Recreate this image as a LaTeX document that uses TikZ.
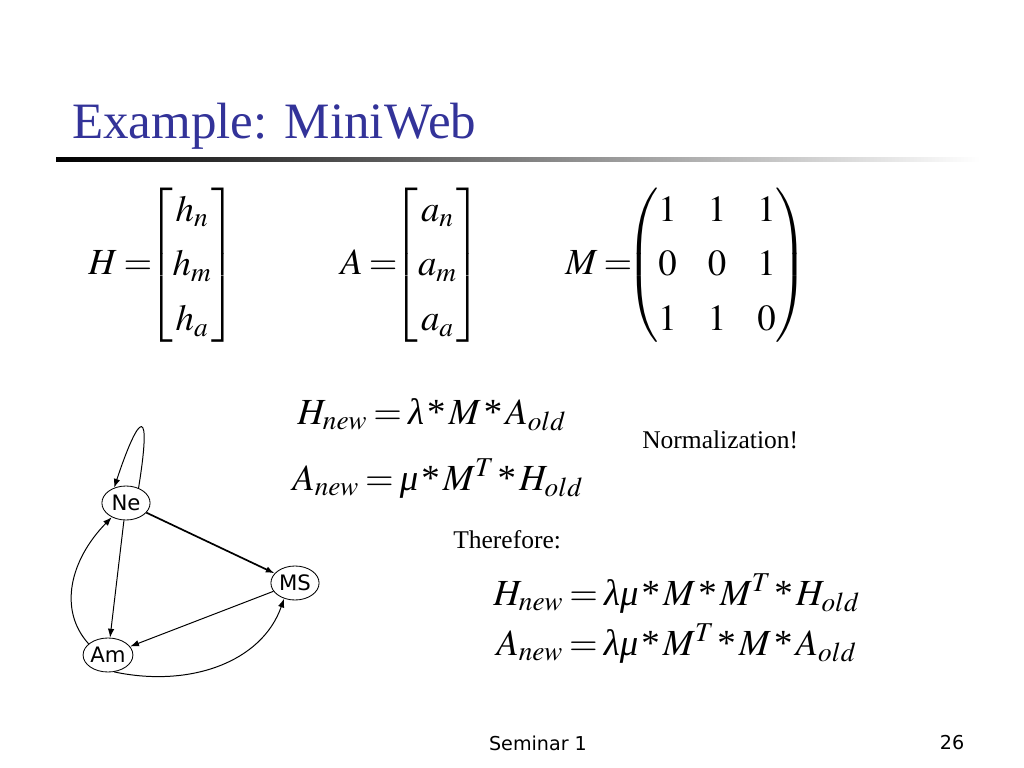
\documentclass[tikz,border=0pt]{standalone}
\usepackage{amsmath}
\usepackage{mathptmx}
\usepackage{fontspec}
\setmainfont{Liberation Serif}
\newfontfamily\tahoma{DejaVu Sans}
\usepackage{tikz}
\usetikzlibrary{positioning, shapes.geometric, arrows.meta}
\tikzstyle{arrow} = [line width=0.7pt,-{Latex[length=2.2mm,width=1.6mm]}]
\definecolor{titleblue}{RGB}{51,51,153}
\newcommand{\tms}{\mathbin{\text{*}}}
\newcommand{\glam}{\mathord{\textit{λ}}}
\newcommand{\gmu}{\mathord{\textit{μ}}}
\newcommand{\eqsetup}{\fontsize{26}{31}\selectfont
    \thickmuskip=3mu\relax \medmuskip=1.5mu\relax
    \delimiterfactor=900\relax \delimitershortfall=12pt\relax}

\begin{document}
\begin{tikzpicture}[
        x=0.24805mm, y=-0.24805mm,
        every node/.style={inner sep=0pt},
        vertex/.style={ellipse, draw=black, line width=0.6pt, minimum width=34pt, minimum height=24pt, font=\tahoma\fontsize{15}{17}\selectfont},
        mathfont/.style={font=\eqsetup},
        eq/.style={mathfont, anchor=base west},
        txt/.style={font=\fontsize{18}{21}\selectfont, anchor=base west},
        foot/.style={font=\tahoma\fontsize{13.5}{16}\selectfont}
    ]
    \useasboundingbox (0,0) rectangle (1024,768);

    % Title
    \node (title) [anchor=base west, text=titleblue, font=\fontsize{36}{42}\selectfont] at (72,139) {Example: MiniWeb};
    \shade [left color=black, right color=white] (56,157) rectangle (980,161);

    % Vectors and matrix
    \node (matH) [anchor=west, mathfont] at (88,265)
        {\renewcommand{\arraystretch}{1.25}$H=\mkern-5mu\begin{bmatrix} h_n \\ h_m \\ h_a \end{bmatrix}$};
    \node (matA) [anchor=west, mathfont] at (340,265)
        {\renewcommand{\arraystretch}{1.25}$A=\mkern-5mu\begin{bmatrix} a_n \\ a_m \\ a_a \end{bmatrix}$};
    \node (matM) [anchor=west, mathfont] at (565,265)
        {\renewcommand{\arraystretch}{1.25}\setlength{\arraycolsep}{11pt}$M=\mkern-6mu\begin{pmatrix} 1 & 1 & 1 \\ 0 & 0 & 1 \\ 1 & 1 & 0 \end{pmatrix}$};

    % Update rules
    \node (eqH) [eq] at (297,424) {$H_{new}=\glam\tms M\tms A_{old}$};
    \node (eqA) [eq] at (292,490) {$A_{new}=\gmu\tms M^{T}\tms H_{old}$};
    \node (norm) [txt] at (642,448) {Normalization!};
    \node (therefore) [txt] at (453,548) {Therefore:};
    \node (eqHH) [eq] at (493,605) {$H_{new}=\glam\gmu\tms M\tms M^{T}\tms H_{old}$};
    \node (eqAA) [eq] at (496,655) {$A_{new}=\glam\gmu\tms M^{T}\tms M\tms A_{old}$};

    % Graph
    \node (Ne) [vertex] at (126,503) {Ne};
    \node (MS) [vertex] at (295,583) {MS};
    \node (Am) [vertex] at (108,655) {Am};

    \draw [arrow] (Ne.50) .. controls (152,405) and (140,410) .. (Ne.128);
    \draw [arrow, line width=1.2pt] (Ne) -- (MS);
    \draw [arrow] (Ne) -- (Am);
    \draw [arrow] (MS) -- (Am);
    \draw [arrow] (Am.150) .. controls (58,610) and (70,560) .. (Ne.225);
    \draw [arrow] (Am.290) .. controls (190,688) and (262,662) .. (MS.235);

    % Footer
    \node (seminar) [foot] at (538,743) {Seminar 1};
    \node (page) [foot] at (952,743) {26};

\end{tikzpicture}
\end{document}
